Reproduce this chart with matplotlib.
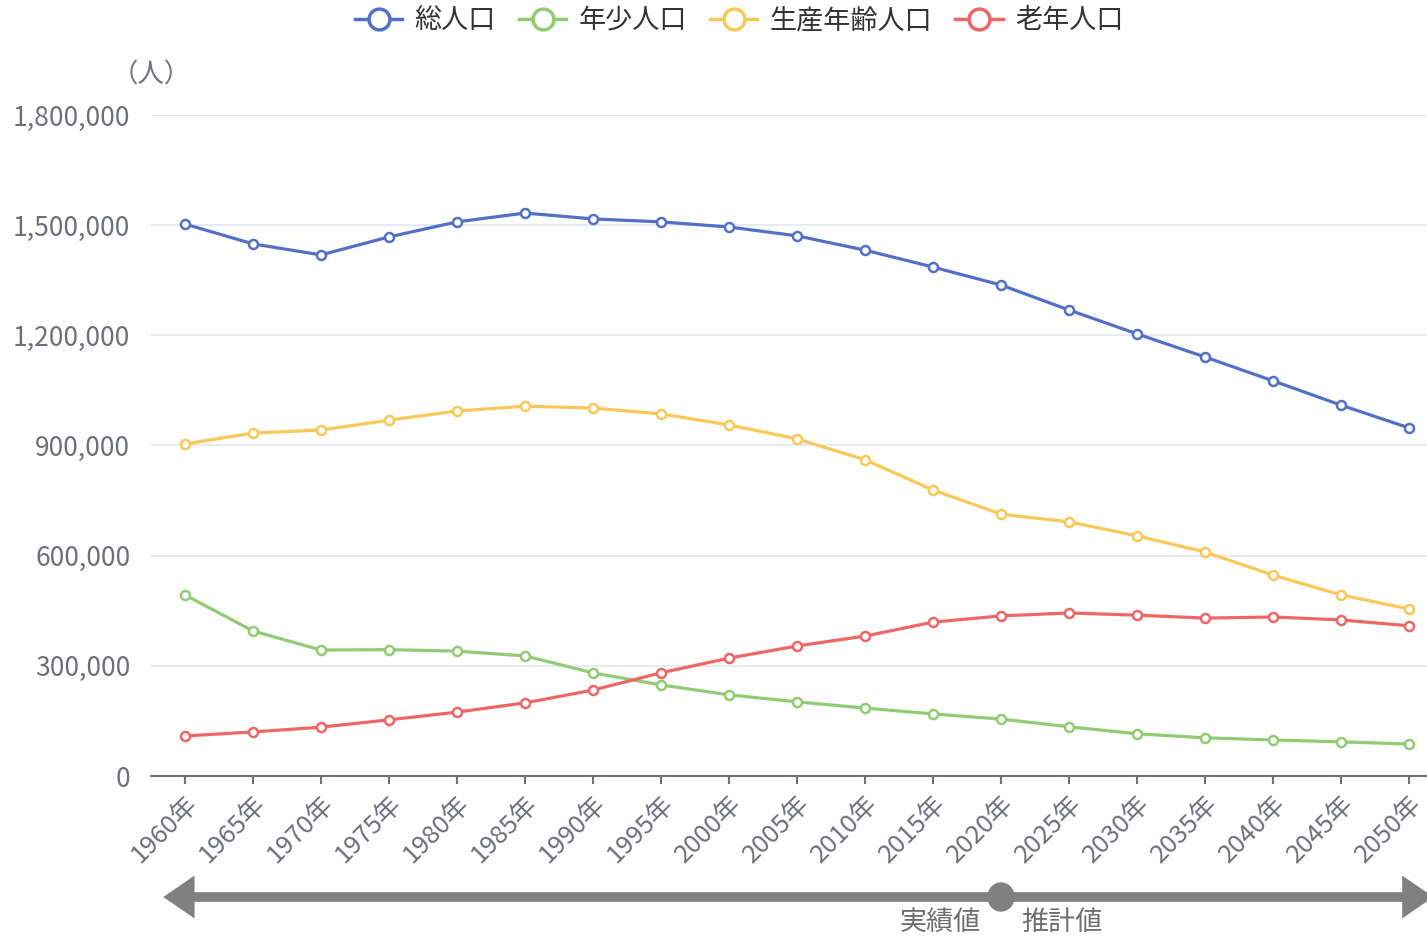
import matplotlib
matplotlib.use("Agg")
import matplotlib.pyplot as plt
from matplotlib.lines import Line2D
from matplotlib.patches import FancyArrowPatch, Ellipse
from matplotlib.transforms import blended_transform_factory

plt.rcParams['font.family'] = ['Noto Sans CJK JP', 'DejaVu Sans']

years = ['1960年', '1965年', '1970年', '1975年', '1980年', '1985年', '1990年',
         '1995年', '2000年', '2005年', '2010年', '2015年', '2020年', '2025年',
         '2030年', '2035年', '2040年', '2045年', '2050年']

total = [1503000, 1449000, 1419000, 1468000, 1509000, 1533000, 1517000,
         1509000, 1495000, 1471000, 1432000, 1386000, 1337000, 1269000,
         1204000, 1141000, 1076000, 1010000, 948000]
youth = [493000, 395000, 343000, 344000, 340000, 327000, 281000,
         248000, 221000, 202000, 185000, 169000, 155000, 134000,
         115000, 104000, 98000, 93000, 87000]
working = [904000, 934000, 942000, 969000, 994000, 1007000, 1002000,
           986000, 956000, 918000, 861000, 779000, 713000, 692000,
           654000, 610000, 547000, 493000, 455000]
elderly = [109000, 120000, 133000, 153000, 174000, 199000, 234000,
           281000, 321000, 354000, 381000, 419000, 436000, 444000,
           438000, 430000, 433000, 425000, 409000]

series = [('総人口', total, '#5470c6'),
          ('年少人口', youth, '#91cc75'),
          ('生産年齢人口', working, '#fac858'),
          ('老年人口', elderly, '#ee6666')]

split_year = '2020年'
axis_color = '#6e7079'

fig = plt.figure(figsize=(14.27, 9.38), dpi=100)
# axes runs past the right edge, as in the cropped original
ax = fig.add_axes([151 / 1427, 162 / 938, 1292 / 1427, 661 / 938])

x = list(range(len(years)))
for name, vals, col in series:
    ax.plot(x, vals, '-o', color=col, lw=2.3, ms=6.5, mfc='white',
            mec=col, mew=1.8, label=name)

ax.set_xlim(-0.5, len(years) - 0.5)
ax.set_ylim(0, 1800000)
ax.set_yticks(range(0, 1800001, 300000))
ax.set_yticklabels([f'{v:,}' for v in range(0, 1800001, 300000)])
ax.set_xticks(x)
ax.set_xticklabels(years, rotation=45, ha='right', va='top', rotation_mode='anchor')

ax.grid(axis='y', color='#e0e6f1', lw=1.2)
ax.set_axisbelow(True)
for s in ['top', 'right', 'left']:
    ax.spines[s].set_visible(False)
ax.spines['bottom'].set_color(axis_color)
ax.spines['bottom'].set_linewidth(1.5)
ax.tick_params(axis='y', length=0, pad=15, labelsize=19, labelcolor=axis_color)
ax.tick_params(axis='x', length=6, width=1.5, color=axis_color, pad=5,
               labelsize=18.5, labelcolor=axis_color)

ax.text(0, 1.061, '（人）', transform=ax.transAxes, ha='center', va='center',
        fontsize=19, color=axis_color)

handles = [Line2D([], [], color=col, lw=2.5, marker='o', ms=15, mfc='white',
                  mec=col, mew=2.5) for _, _, col in series]
fig.legend(handles, [s[0] for s in series], loc='center', ncol=4,
           bbox_to_anchor=(0.518, 1 - 21 / 938), frameon=False, fontsize=19.5,
           handlelength=1.75, handletextpad=0.45, columnspacing=0.85)
for t in fig.legends[0].get_texts():
    t.set_color('#333333')

# timeline arrow under the axis
tr = blended_transform_factory(ax.transData, fig.transFigure)
arrow_y = 41 / 938
arr = FancyArrowPatch((-0.36, arrow_y), (18.4, arrow_y), transform=tr,
                      arrowstyle='<|-|>,head_length=0.8,head_width=0.55',
                      mutation_scale=16, lw=7, color='#808080',
                      joinstyle='miter', clip_on=False, zorder=5)
fig.add_artist(arr)
sx = years.index(split_year)
dot = Ellipse((sx, arrow_y), width=26 / 68, height=28 / 938, transform=tr,
              color='#808080', zorder=6, clip_on=False)
fig.add_artist(dot)
ax.text(sx - 0.3, 16 / 938, '実績値', transform=tr, ha='right', va='center',
        fontsize=19.5, color='#6e6e6e')
ax.text(sx + 0.3, 16 / 938, '推計値', transform=tr, ha='left', va='center',
        fontsize=19.5, color='#6e6e6e')

fig.savefig('out.png', dpi=100)
